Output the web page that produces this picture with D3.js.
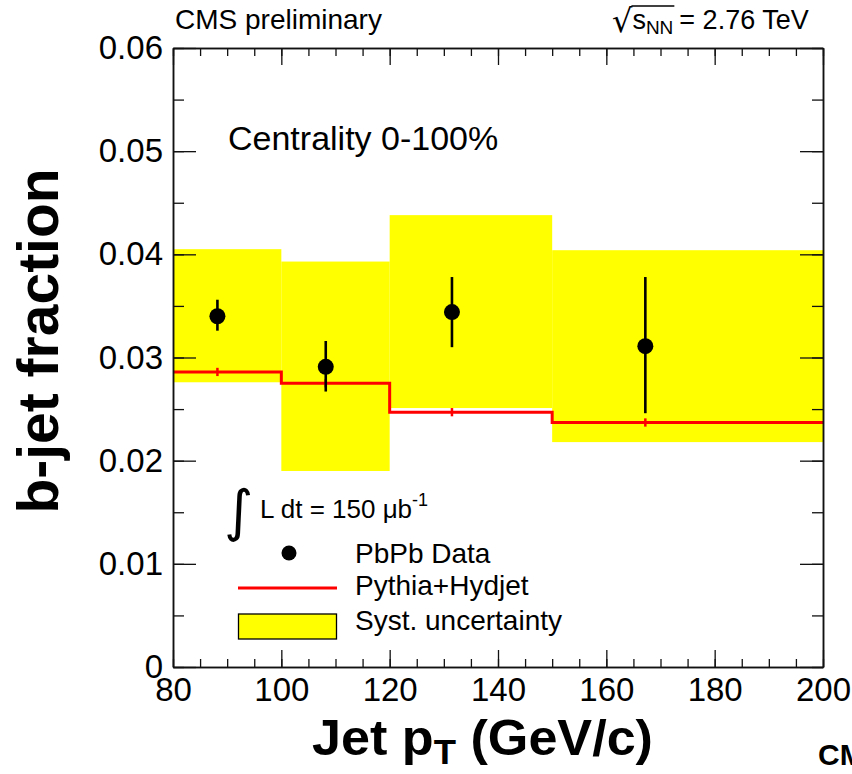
<!DOCTYPE html>
<html>
<head>
<meta charset="utf-8">
<script src="https://cdn.jsdelivr.net/npm/d3@7"></script>
<style>
  html, body { margin: 0; padding: 0; background: #fff; }
  svg { display: block; font-family: "Liberation Sans", Arial, Helvetica, sans-serif; }
</style>
</head>
<body>
<svg id="chart" width="852" height="774"></svg>
<script>
// b-jet fraction vs jet pT, PbPb 2.76 TeV

// Bin edges of the jet pT histogram (GeV/c)
const binLow  = [80, 100, 120, 150];
const binHigh = [100, 120, 150, 200];
// Mean jet pT per bin, where points and MC error ticks sit
const meanPt  = [88.2, 108.2, 131.5, 167.2];

// PbPb data: b-jet fraction with statistical errors
const dataVal   = [0.0340, 0.0291, 0.0344, 0.0311];
const dataErrHi = [0.0016, 0.0025, 0.0034, 0.0067];
const dataErrLo = [0.0014, 0.0024, 0.0034, 0.0065];

// Systematic uncertainty bands (lower / upper edge)
const systLow  = [0.0276, 0.0190, 0.0251, 0.0218];
const systHigh = [0.0405, 0.0393, 0.0438, 0.0404];

// Pythia+Hydjet expectation and its statistical error
const mcVal = [0.0286, 0.0275, 0.0247, 0.0237];
const mcErr = [0.0004, 0.0004, 0.0004, 0.0004];

// Axis ticks
const xMajor = [80, 100, 120, 140, 160, 180, 200];
const xMinor = d3.range(80, 201, 5);
const yMajor = [0, 0.01, 0.02, 0.03, 0.04, 0.05, 0.06];
const yMinor = d3.range(0, 0.0601, 0.005);
const yTickLabels = ["0", "0.01", "0.02", "0.03", "0.04", "0.05", "0.06"];

const svg = d3.select("#chart");
const L = 173, R = 823, T = 48, B = 667;
const x = d3.scaleLinear().domain([80, 200]).range([L, R]);
const y = d3.scaleLinear().domain([0, 0.06]).range([B, T]);

const bins = binLow.map((lo, i) => ({
  lo, hi: binHigh[i], pt: meanPt[i],
  v: dataVal[i], eh: dataErrHi[i], el: dataErrLo[i],
  sl: systLow[i], sh: systHigh[i], mc: mcVal[i], me: mcErr[i]
}));

// Systematic uncertainty boxes
svg.append("g").selectAll("rect").data(bins).join("rect")
  .attr("x", d => x(d.lo)).attr("width", d => x(d.hi) - x(d.lo))
  .attr("y", d => y(d.sh)).attr("height", d => y(d.sl) - y(d.sh))
  .attr("fill", "#ffff00");

// MC histogram as a step line
const steps = [];
bins.forEach(d => { steps.push([d.lo, d.mc]); steps.push([d.hi, d.mc]); });
svg.append("path")
  .attr("d", d3.line().x(d => x(d[0])).y(d => y(d[1]))(steps))
  .attr("fill", "none").attr("stroke", "#ff0000").attr("stroke-width", 3);
svg.append("g").selectAll("line").data(bins).join("line")
  .attr("x1", d => x(d.pt)).attr("x2", d => x(d.pt))
  .attr("y1", d => y(d.mc - d.me)).attr("y2", d => y(d.mc + d.me))
  .attr("stroke", "#ff0000").attr("stroke-width", 2.5);

// Data points with error bars
svg.append("g").selectAll("line").data(bins).join("line")
  .attr("x1", d => x(d.pt)).attr("x2", d => x(d.pt))
  .attr("y1", d => y(d.v - d.el)).attr("y2", d => y(d.v + d.eh))
  .attr("stroke", "#000").attr("stroke-width", 2.6);
svg.append("g").selectAll("circle").data(bins).join("circle")
  .attr("cx", d => x(d.pt)).attr("cy", d => y(d.v)).attr("r", 8)
  .attr("fill", "#000");

// Axes: major + minor ticks on all four sides, pointing inward
function styleAxis(g) {
  g.selectAll("line").attr("stroke", "#111").attr("stroke-width", 1.3);
  g.selectAll("path").attr("stroke", "#111").attr("stroke-width", 1.5);
  g.selectAll("text").attr("font-size", 33).attr("fill", "#000")
    .attr("font-family", "'Liberation Sans', Arial, sans-serif");
}
svg.append("g").attr("transform", `translate(0,${B})`)
  .call(d3.axisBottom(x).tickValues(xMinor).tickSize(-8).tickSizeOuter(0).tickFormat(""))
  .call(styleAxis);
svg.append("g").attr("transform", `translate(0,${B})`)
  .call(d3.axisBottom(x).tickValues(xMajor).tickSize(-17).tickSizeOuter(0).tickPadding(11).tickFormat(d3.format("d")))
  .call(styleAxis);
svg.append("g").attr("transform", `translate(0,${T})`)
  .call(d3.axisTop(x).tickValues(xMinor).tickSize(-8).tickSizeOuter(0).tickFormat(""))
  .call(styleAxis);
svg.append("g").attr("transform", `translate(0,${T})`)
  .call(d3.axisTop(x).tickValues(xMajor).tickSize(-17).tickSizeOuter(0).tickFormat(""))
  .call(styleAxis);
svg.append("g").attr("transform", `translate(${L},0)`)
  .call(d3.axisLeft(y).tickValues(yMinor).tickSize(-11).tickSizeOuter(0).tickFormat(""))
  .call(styleAxis);
svg.append("g").attr("transform", `translate(${L},0)`)
  .call(d3.axisLeft(y).tickValues(yMajor).tickSize(-23).tickSizeOuter(0).tickPadding(10)
    .tickFormat((d, i) => yTickLabels[i]))
  .call(styleAxis);
svg.append("g").attr("transform", `translate(${R},0)`)
  .call(d3.axisRight(y).tickValues(yMinor).tickSize(-11).tickSizeOuter(0).tickFormat(""))
  .call(styleAxis);
svg.append("g").attr("transform", `translate(${R},0)`)
  .call(d3.axisRight(y).tickValues(yMajor).tickSize(-23).tickSizeOuter(0).tickFormat(""))
  .call(styleAxis);

// Axis titles
svg.append("text")
  .attr("transform", "translate(58,341) rotate(-90)")
  .attr("text-anchor", "middle").attr("font-weight", "bold").attr("font-size", 57)
  .text("b-jet fraction");
const xt = svg.append("text").attr("x", 312).attr("y", 755)
  .attr("font-weight", "bold").attr("font-size", 50)
  .attr("textLength", 341).attr("lengthAdjust", "spacingAndGlyphs");
xt.append("tspan").text("Jet p");
xt.append("tspan").attr("font-size", 35).attr("dy", 9).text("T");
xt.append("tspan").attr("dy", -9).text(" (GeV/c)");

// Header texts
svg.append("text").attr("x", 175).attr("y", 29).attr("font-size", 28)
  .text("CMS preliminary");

const sx = 612, sy = 29;
const rad = svg.append("text").attr("x", sx).attr("y", sy + 3).attr("font-size", 32)
  .attr("font-family", "'DejaVu Sans', sans-serif").text("√");
const radW = rad.node().getComputedTextLength();
const sT = svg.append("text").attr("x", sx + radW).attr("y", sy).attr("font-size", 27);
sT.append("tspan").text("s");
sT.append("tspan").attr("font-size", 19).attr("dy", 5).text("NN");
const sW = sT.node().getComputedTextLength();
svg.append("line")
  .attr("x1", sx + radW - 1).attr("x2", sx + radW + sW + 1)
  .attr("y1", 6).attr("y2", 6).attr("stroke", "#000").attr("stroke-width", 1.3);
svg.append("text").attr("x", sx + radW + sW + 6).attr("y", sy).attr("font-size", 27)
  .text("= 2.76 TeV");

svg.append("text").attr("x", 228).attr("y", 150).attr("font-size", 34)
  .text("Centrality 0-100%");

// Luminosity label
svg.append("text").attr("x", 224).attr("y", 530).attr("font-size", 56)
  .attr("font-family", "'DejaVu Sans', sans-serif").text("∫");
const lt = svg.append("text").attr("x", 260).attr("y", 518).attr("font-size", 26);
lt.append("tspan").text("L dt = 150 ");
lt.append("tspan").text("μb");
lt.append("tspan").attr("font-size", 18).attr("dy", -12).text("-1");

// Legend
const lg = svg.append("g");
lg.append("circle").attr("cx", 289).attr("cy", 553).attr("r", 7.5).attr("fill", "#000");
lg.append("text").attr("x", 355).attr("y", 563).attr("font-size", 28).text("PbPb Data");
lg.append("line").attr("x1", 238).attr("x2", 337).attr("y1", 588).attr("y2", 588)
  .attr("stroke", "#ff0000").attr("stroke-width", 3);
lg.append("text").attr("x", 355).attr("y", 595).attr("font-size", 28).text("Pythia+Hydjet");
lg.append("rect").attr("x", 238.5).attr("y", 614).attr("width", 98).attr("height", 25)
  .attr("fill", "#ffff00").attr("stroke", "#000").attr("stroke-width", 1.3);
lg.append("text").attr("x", 355).attr("y", 630).attr("font-size", 28).text("Syst. uncertainty");

// Corner tag
svg.append("text").attr("x", 818).attr("y", 765).attr("font-size", 30)
  .attr("font-weight", "bold").text("CMS");
</script>
</body>
</html>
